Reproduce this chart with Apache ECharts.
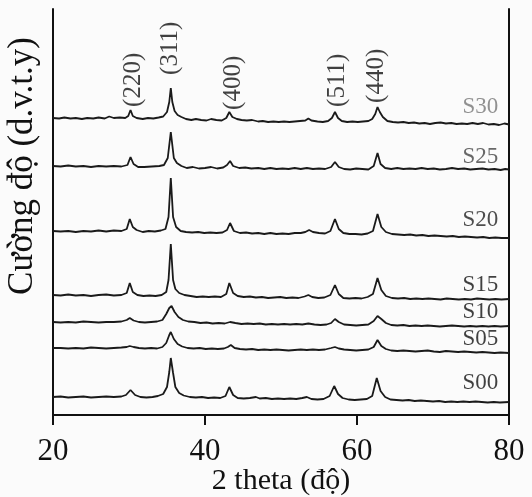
<!DOCTYPE html>
<html>
<head>
<meta charset="utf-8">
<script src="https://cdn.jsdelivr.net/npm/echarts@6/dist/echarts.min.js"></script>
<style>
  html, body { margin: 0; padding: 0; background: #fbfbfb; }
  #main { width: 532px; height: 497px; }
</style>
</head>
<body>
<div id="main"></div>
<script>
var myChart = echarts.init(document.getElementById('main'));

// sample names, bottom to top
var names = ['S00', 'S05', 'S10', 'S15', 'S20', 'S25', 'S30'];
// vertical stacking offset of each pattern (a.u.)
var offsets = [18, 67, 93, 120, 184, 249, 297];
// where the sample name sits above its pattern (a.u.)
var nameLift = [14, 9, 10, 10, 11, 9, 11];
var nameColors = ['#111', '#111', '#111', '#111', '#222', '#444', '#777'];

// peak index labels
var peakTheta = [30.6, 35.5, 43.7, 57.4, 62.6];
var peakLabelY = [308, 340, 305, 308, 312];
var peakNames = ['(220)', '(311)', '(400)', '(511)', '(440)'];

// [2 theta, intensity]
var s00 = [[20,0],[21,0.5],[22,-0.5],[23,0],[24,0.5],[25,-0.5],[26,0],[27,0.5],[28,0],[29,0.5],[29.6,2],[30.2,7],[30.8,2],[31.5,0],[32.3,-0.5],[33.1,0],[33.8,1],[34.5,3],[35,10],[35.3,25],[35.5,39],[35.8,24],[36.1,10],[36.6,4],[37.2,1.5],[38,0],[38.8,-0.5],[39.6,0],[40.4,-1],[41.2,-0.5],[42,-1],[42.7,1],[43.2,10],[43.7,2],[44.3,-1],[45.1,-1.5],[45.9,-1],[46.7,0],[47.2,-1.5],[48,-1],[48.8,-2],[49.6,-1.5],[50.4,-2],[51.2,-1.5],[52,-2],[52.8,-1],[53.4,0],[54,-2],[54.8,-2.5],[55.6,-2],[56.4,1],[57,11],[57.5,3],[58.1,-1],[58.9,-2.5],[59.7,-3],[60.5,-2.5],[61.3,-2],[62,1],[62.6,19],[63.1,6],[63.7,0],[64.4,-2.5],[65.2,-3],[66,-3.5],[66.8,-3],[67.6,-4],[68.4,-3.5],[69.2,-4],[70,-4.5],[70.8,-4],[71.6,-5],[72.4,-4.5],[73.2,-5],[74,-4.5],[74.8,-5],[75.6,-4.5],[76.4,-5],[77.2,-5.5],[78,-5],[78.8,-5.5],[80,-5]];
var s05 = [[20,0],[21,0],[22,-0.5],[23,0],[24,-0.5],[25,0.5],[26,0],[27,-0.5],[28,0],[29,0.5],[29.7,1],[30.1,2],[30.6,1],[31.3,0],[32.1,-0.5],[32.9,0],[33.7,-0.5],[34.4,1],[34.9,5],[35.3,13],[35.5,16],[35.9,9],[36.4,4],[37,1.5],[37.7,0],[38.5,-0.5],[39.3,0],[40.1,-1],[40.9,-0.5],[41.7,-1],[42.5,-0.5],[43,1],[43.4,3],[43.9,0],[44.6,-1],[45.4,-1.5],[46.2,-1],[47,-2],[47.8,-1.5],[48.6,-2],[49.4,-1.5],[50.2,-2],[51,-2.5],[51.8,-2],[52.6,-1.5],[53.4,-2],[54.2,-1.5],[55,-2],[55.8,-1.5],[56.6,0],[57.1,1],[57.6,-0.5],[58.3,-1.5],[59.1,-2],[59.9,-2.5],[60.7,-2],[61.5,-1.5],[62.2,1],[62.7,8],[63.2,2],[63.8,-1],[64.5,-2.5],[65.3,-3],[66.1,-2.5],[66.9,-3],[67.7,-3.5],[68.5,-3],[69.3,-2.5],[70.1,-3.5],[70.9,-4],[71.7,-3],[72.5,-3.5],[73.3,-4],[74.1,-3.5],[74.9,-4],[75.7,-4.5],[76.5,-4],[77.3,-4.5],[78.1,-5],[78.9,-4.5],[80,-5]];
var s10 = [[20,0],[21,-0.5],[22,0],[23,-0.5],[24,0.5],[25,0],[26,-0.5],[27,0],[28,0],[29,0.5],[29.7,2],[30.1,4],[30.6,1.5],[31.3,0],[32.1,-0.5],[32.9,0],[33.7,0.5],[34.4,2],[34.9,8],[35.3,14],[35.6,16],[36,10],[36.5,5],[37.1,2],[37.8,0.5],[38.6,0],[39.4,-1],[40.2,-0.5],[41,-1.5],[41.8,-1],[42.6,-1.5],[43.3,0],[44,-1],[44.8,-2],[45.6,-1.5],[46.4,-2],[47.2,-1.5],[48,-2.5],[48.8,-2],[49.6,-2.5],[50.4,-2],[51.2,-2.5],[52,-2],[52.8,-2.5],[53.6,-1.5],[54.4,-2.5],[55.2,-3],[56,-2.5],[56.6,-1],[57.1,3],[57.6,0],[58.3,-2.5],[59.1,-3],[59.9,-3.5],[60.7,-3],[61.5,-2.5],[62.2,1],[62.7,6],[63.2,3],[63.8,-1],[64.5,-3],[65.3,-3.5],[66.1,-3],[66.9,-4],[67.7,-3.5],[68.5,-4],[69.3,-3.5],[70.1,-4],[70.9,-4.5],[71.7,-4],[72.5,-3.5],[73.3,-4],[74.1,-4.5],[74.9,-4],[75.7,-4.5],[76.5,-4],[77.3,-4.5],[78.1,-4],[78.9,-4.5],[80,-4]];
var s15 = [[20,0],[21,-0.5],[22,0.5],[23,-0.5],[24,0],[25,-1],[26,0],[27,0.5],[28,-0.5],[29,0],[29.7,2],[30.1,12],[30.5,3],[31.1,0],[31.9,-1],[32.7,-0.5],[33.5,-1],[34.3,0],[34.9,3],[35.2,15],[35.5,51],[35.8,15],[36.1,6],[36.6,2],[37.3,0],[38.1,-1],[38.9,-2],[39.7,-1.5],[40.5,-2],[41.3,-1.5],[42.1,-2],[42.8,1],[43.2,12],[43.7,2],[44.3,-1],[45.1,-2],[45.9,-1.5],[46.7,-2.5],[47.5,-2],[48.3,-3],[49.1,-2.5],[49.9,-2],[50.7,-3],[51.5,-2.5],[52.3,-3],[53.1,-1.5],[53.6,0],[54.1,-2],[54.9,-3],[55.7,-2.5],[56.5,0],[57.1,10],[57.6,1],[58.2,-3],[59,-3.5],[59.8,-3],[60.6,-3.5],[61.4,-2],[62.1,1],[62.7,17],[63.2,5],[63.8,-1],[64.6,-3],[65.4,-3.5],[66.2,-3],[67,-4],[67.8,-3.5],[68.6,-4],[69.4,-3.5],[70.2,-4],[71,-4.5],[71.8,-3.5],[72.6,-4],[73.4,-4.5],[74.2,-4],[75,-4.5],[75.8,-3.5],[76.6,-4],[77.4,-4.5],[78.2,-4],[79,-4.5],[80,-4]];
var s20 = [[20,0],[21,-0.5],[22,0],[23,-1],[24,0],[25,-0.5],[26,0.5],[27,-0.5],[28,0.5],[29,0],[29.7,2],[30.1,12],[30.5,4],[31,1],[31.8,-1],[32.6,0],[33.4,-0.5],[34.2,0.5],[34.8,2],[35.2,14],[35.5,53],[35.8,14],[36.2,4],[36.8,0],[37.5,-1],[38.3,-1.5],[39.1,-1],[39.9,-2],[40.7,-1.5],[41.5,-2],[42.3,-1.5],[42.9,1],[43.3,8],[43.8,0],[44.6,-2],[45.4,-1.5],[46.2,-2.5],[47,-2],[47.8,-3],[48.6,-2],[49.4,-3],[50.2,-2.5],[51,-3],[51.8,-2],[52.6,-2],[53.2,-1],[53.7,1],[54.2,-1],[55,-2],[55.8,-2.5],[56.5,0],[57.1,12],[57.6,2],[58.2,-2],[59,-3],[59.8,-3],[60.6,-3.5],[61.4,-2.5],[62.1,0],[62.7,17],[63.2,4],[63.8,-1],[64.6,-3],[65.4,-3.5],[66.2,-4],[67,-3.5],[67.8,-4.5],[68.6,-4],[69.4,-5],[70.2,-4.5],[71,-5],[71.8,-5.5],[72.6,-5],[73.4,-6],[74.2,-5.5],[75,-6],[75.8,-6.5],[76.6,-6],[77.4,-7],[78.2,-6.5],[79,-7],[80,-7]];
var s25 = [[20,0],[21,-0.5],[22,0.5],[23,-0.5],[24,0],[25,-1],[26,0],[27,-0.5],[28,0],[29,-0.5],[29.8,1],[30.2,9],[30.6,2],[31.2,-1],[32,-1],[33,-0.5],[34,0],[34.6,1],[35.1,8],[35.5,34],[35.9,8],[36.3,3],[36.9,0],[37.6,-2],[38.4,-1],[39.2,-2.5],[40,-2],[40.8,-1],[41.6,-2.5],[42.4,-1.5],[42.9,1],[43.3,5],[43.7,0],[44.5,-2],[45.3,-1.5],[46.1,-2.5],[47,-2],[47.8,-3],[48.6,-2],[49.4,-3],[50.2,-2.5],[51,-3],[51.8,-2],[52.6,-3],[53.4,-2],[54.2,-3],[55,-2.5],[55.8,-3],[56.6,-1],[57.1,4],[57.6,-1],[58.3,-3],[59.1,-3.5],[59.9,-2.5],[60.7,-3],[61.5,-3.5],[62.2,0],[62.7,13],[63.1,2],[63.7,-2],[64.5,-3],[65.3,-2],[66.1,-3],[66.9,-2.5],[67.7,-3],[68.5,-2],[69.3,-3],[70.1,-2.5],[70.9,-3.5],[71.7,-3],[72.5,-2],[73.3,-3],[74.1,-2.5],[74.9,-3.5],[75.7,-3],[76.5,-2.5],[77.3,-3.5],[78.1,-3],[78.9,-4],[79.5,-3],[80,-3.5]];
var s30 = [[20,0],[20.8,-0.5],[21.5,0.5],[22.3,-0.5],[23,0],[23.8,-1],[24.5,0],[25.3,-0.5],[26,0.5],[26.8,-0.5],[27.4,1.5],[28,0],[28.8,0.5],[29.5,0],[29.9,2],[30.2,8],[30.5,2],[31,0],[31.8,-1],[32.5,0],[33.2,-0.5],[33.9,0.5],[34.5,1.5],[35,6],[35.3,16],[35.5,30],[35.7,16],[36,7],[36.4,3],[36.9,1],[37.5,-1],[38.2,-2],[38.8,-1],[39.5,-2],[40.2,-2.5],[40.8,-1],[41.5,-2],[42.2,-2.5],[42.8,0],[43.2,6],[43.6,1],[44.2,-1],[44.8,-2],[45.5,-2.5],[46.2,-2],[47,-3.5],[47.6,-3],[48.3,-4],[49,-3.5],[49.7,-4],[50.4,-3.5],[51.1,-4],[51.8,-3.5],[52.5,-3],[53.2,-2.5],[53.6,-0.5],[54,-2.5],[54.8,-3.5],[55.5,-4],[56.2,-3],[56.7,0],[57.1,6],[57.5,0],[58,-3],[58.7,-4],[59.4,-3.5],[60.1,-4],[60.8,-3.5],[61.5,-3],[62,-1],[62.4,4],[62.7,11],[63,6],[63.4,1],[64,-3],[64.7,-4],[65.4,-4.5],[66.1,-4],[66.8,-5],[67.5,-4.5],[68.2,-5.5],[68.9,-5],[69.6,-6],[70.3,-5],[71,-4.5],[71.7,-5.5],[72.4,-5],[73.1,-6],[73.8,-5.5],[74.5,-6],[75.2,-5],[75.9,-6],[76.6,-5],[77.3,-6.5],[78,-6],[78.7,-7],[79.4,-5.5],[80,-6.5]];

var patterns = [s00, s05, s10, s15, s20, s25, s30];
var nameTheta = 78.6;

var serif = '"Liberation Serif", "DejaVu Serif", serif';

var series = [];
patterns.forEach(function (pts, i) {
    series.push({
        type: 'line',
        name: names[i],
        data: pts.map(function (p) { return [p[0], p[1] + offsets[i]]; }),
        showSymbol: false,
        silent: true,
        lineStyle: { color: '#1a1a1a', width: 1.8 }
    });
});

// sample names at the right end
series.push({
    type: 'scatter',
    symbolSize: 0.1,
    itemStyle: { color: 'rgba(0,0,0,0)' },
    silent: true,
    data: names.map(function (n, i) {
        return {
            value: [nameTheta, offsets[i] + nameLift[i]],
            label: { color: nameColors[i] }
        };
    }),
    label: {
        show: true,
        position: [0, 0],
        align: 'right',
        verticalAlign: 'middle',
        fontFamily: serif,
        fontSize: 23,
        textBorderWidth: 0,
        formatter: function (p) { return names[p.dataIndex]; }
    }
});

// (hkl) labels above the top pattern
series.push({
    type: 'scatter',
    symbolSize: 0.1,
    itemStyle: { color: 'rgba(0,0,0,0)' },
    silent: true,
    data: peakTheta.map(function (t, i) { return [t, peakLabelY[i]]; }),
    label: {
        show: true,
        position: [0, 0],
        rotate: 90,
        align: 'left',
        verticalAlign: 'middle',
        color: '#111',
        textBorderWidth: 0,
        fontFamily: serif,
        fontSize: 25,
        formatter: function (p) { return peakNames[p.dataIndex]; }
    }
});

var option = {
    backgroundColor: '#fbfbfb',
    animation: false,
    grid: { left: 53, right: 23, top: 9, bottom: 82, outerBoundsMode: 'none' },
    xAxis: [{
        type: 'value',
        min: 20,
        max: 80,
        interval: 20,
        axisLine: { lineStyle: { color: '#111', width: 2 } },
        axisTick: { length: 10, lineStyle: { color: '#111', width: 2 } },
        axisLabel: { color: '#111', fontFamily: serif, fontSize: 31, margin: 21 },
        splitLine: { show: false },
        name: '2 theta (độ)',
        nameLocation: 'middle',
        nameGap: 51,
        nameMoveOverlap: false,
        nameTextStyle: { color: '#111', fontFamily: serif, fontSize: 30 }
    }, {
        type: 'value',
        position: 'top',
        min: 20,
        max: 80,
        axisLine: { lineStyle: { color: '#111', width: 2 } },
        axisTick: { show: false },
        axisLabel: { show: false },
        splitLine: { show: false }
    }],
    yAxis: [{
        type: 'value',
        min: 0,
        max: 406,
        axisLine: { show: true, lineStyle: { color: '#111', width: 2 } },
        axisTick: { show: false },
        axisLabel: { show: false },
        splitLine: { show: false }
    }, {
        type: 'value',
        position: 'right',
        min: 0,
        max: 406,
        axisLine: { show: true, lineStyle: { color: '#111', width: 2 } },
        axisTick: { show: false },
        axisLabel: { show: false },
        splitLine: { show: false }
    }],
    graphic: [{
        type: 'text',
        x: 23,
        y: 166,
        rotation: Math.PI / 2,
        style: {
            text: 'Cường độ (d.v.t.y)',
            fill: '#111',
            font: '35px ' + serif,
            align: 'center',
            verticalAlign: 'middle'
        }
    }],
    series: series
};

myChart.setOption(option);
</script>
</body>
</html>
